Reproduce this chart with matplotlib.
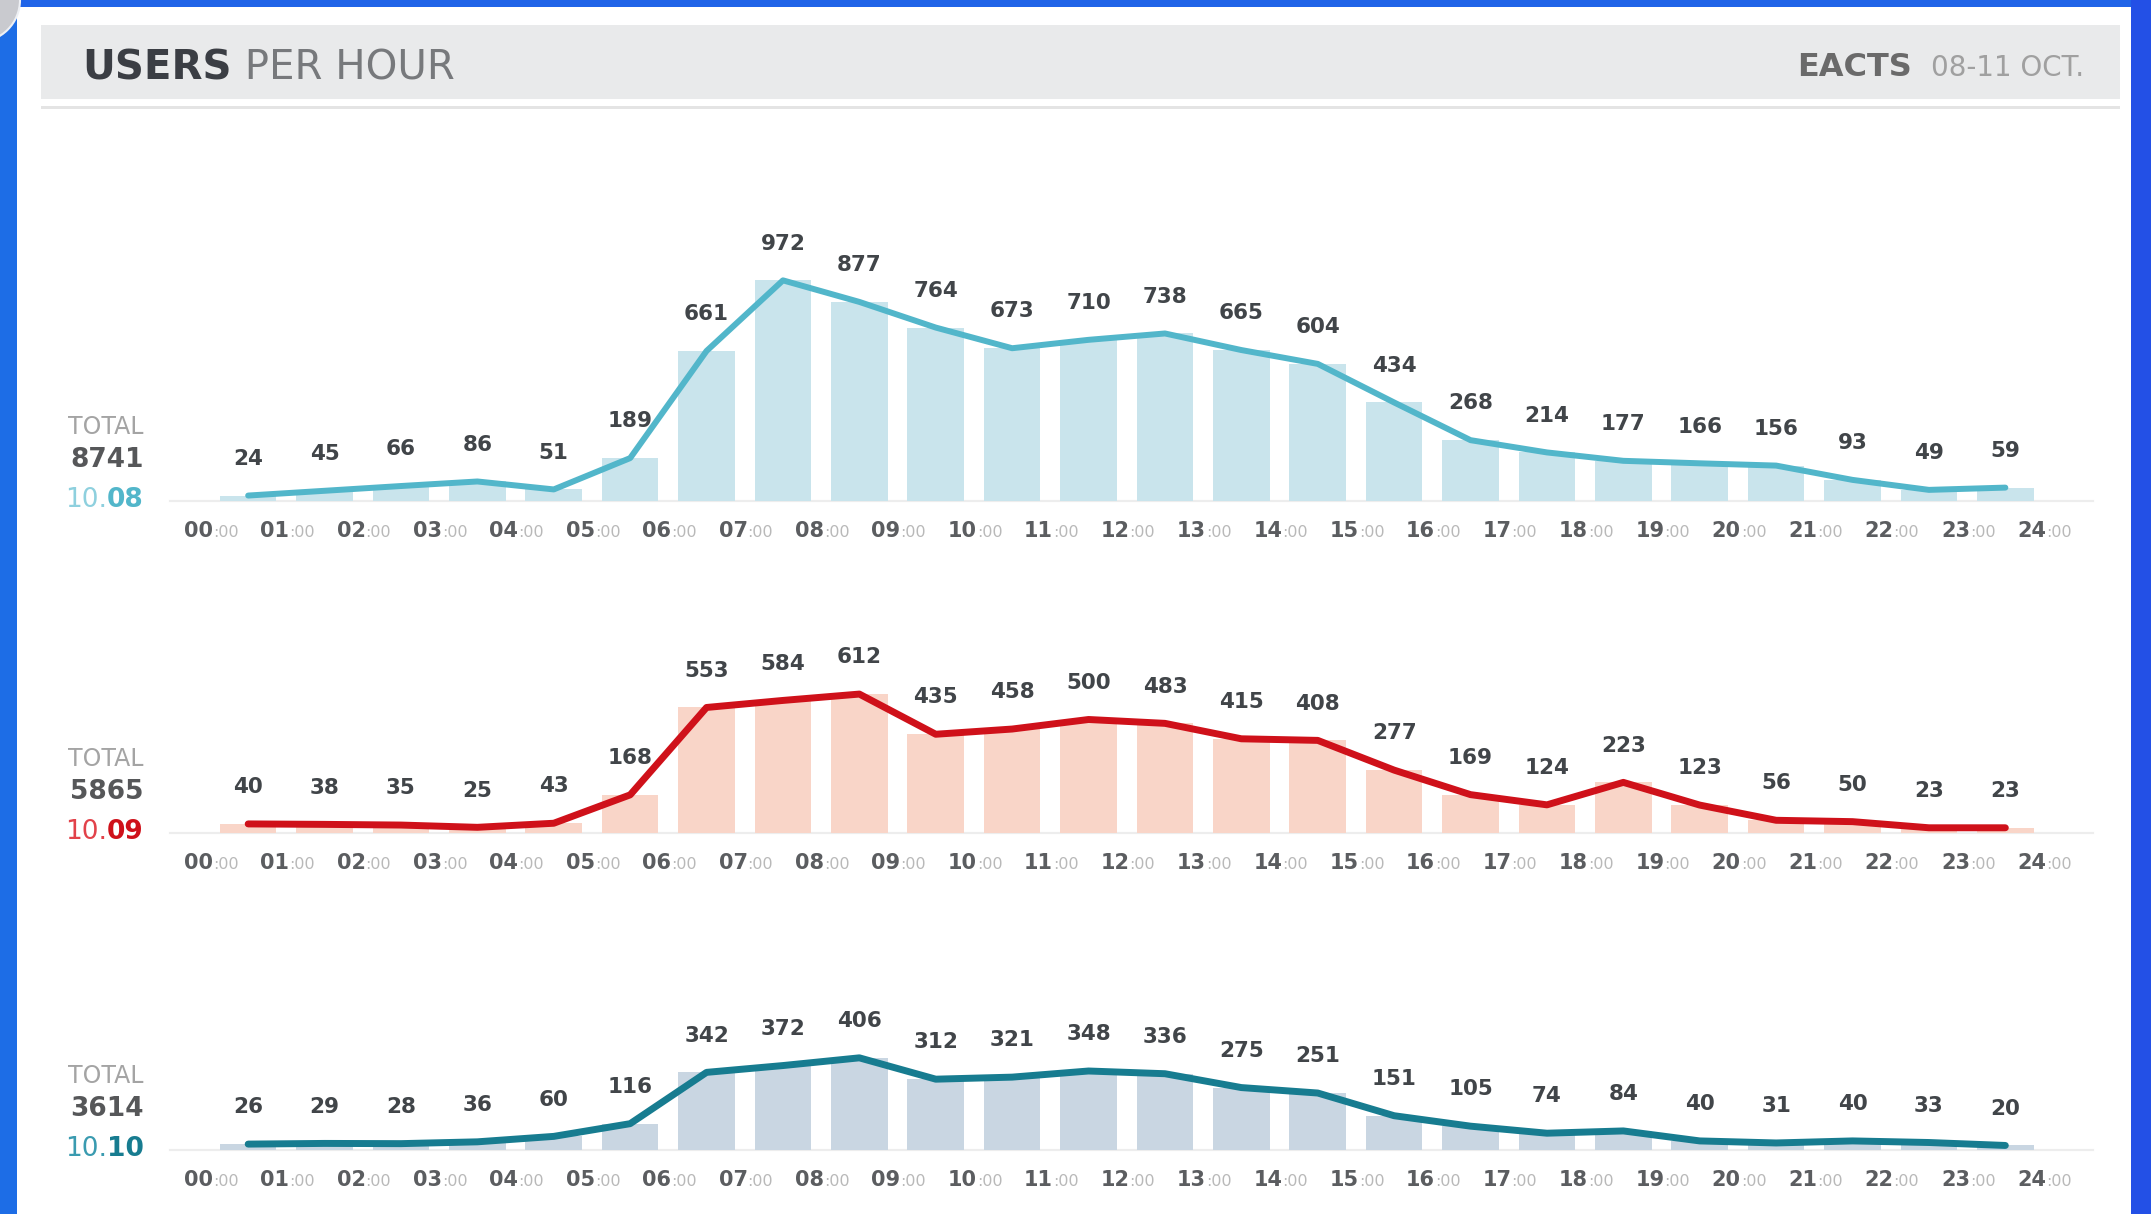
import matplotlib
matplotlib.use("Agg")
import matplotlib.pyplot as plt
from matplotlib.patches import Rectangle, Ellipse
import numpy as np

# hourly users, one list per day
HOURS = [f"{h:02d}" for h in range(25)]
users_oct08 = [24, 45, 66, 86, 51, 189, 661, 972, 877, 764, 673, 710, 738, 665, 604,
               434, 268, 214, 177, 166, 156, 93, 49, 59]
users_oct09 = [40, 38, 35, 25, 43, 168, 553, 584, 612, 435, 458, 500, 483, 415, 408,
               277, 169, 124, 223, 123, 56, 50, 23, 23]
users_oct10 = [26, 29, 28, 36, 60, 116, 342, 372, 406, 312, 321, 348, 336, 275, 251,
               151, 105, 74, 84, 40, 31, 40, 33, 20]
TOTALS = ["8741", "5865", "3614"]
DAY_MONTH = ["10.", "10.", "10."]
DAY_NUM = ["08", "09", "10"]

W, H, DPI = 2151, 1214, 100
PX_PER_USER = 0.227
plt.rcParams["font.family"] = ["DejaVu Sans"]

fig = plt.figure(figsize=(W / DPI, H / DPI), dpi=DPI)
fig.patch.set_facecolor("white")


def fx(px):
    return px / W


def fy(px):
    return 1 - px / H


# window frame
for x0, y0, w, h, c in [(0, 0, 17, H, "#1d6de6"), (0, 0, W, 7, "#2064e8"),
                        (2131, 0, 20, H, "#2350e6")]:
    fig.add_artist(Rectangle((fx(x0), fy(y0 + h)), w / W, h / H,
                             transform=fig.transFigure, color=c, lw=0))
fig.add_artist(Ellipse((fx(-22), fy(0)), 84 / W, 84 / H, transform=fig.transFigure,
                       facecolor="#c9cacf", edgecolor="#eef0f4", lw=1.5))

# header band
fig.add_artist(Rectangle((fx(41), fy(99)), 2079 / W, 74 / H, transform=fig.transFigure,
                         color="#e9eaeb", lw=0))
fig.add_artist(Rectangle((fx(41), fy(109)), 2079 / W, 3 / H, transform=fig.transFigure,
                         color="#e4e4e4", lw=0))

hdr = fig.add_axes([0, 0, 1, 1]); hdr.axis("off"); hdr.set_zorder(5)
t_users = fig.text(fx(82), fy(69), "USERS", ha="left", va="center", fontsize=29,
                   fontweight="bold", color="#3b3e44", zorder=6)
hdr.annotate(" PER HOUR", xy=(1, 0.5), xycoords=t_users, ha="left", va="center",
             fontsize=29, color="#77797c")
t_date = fig.text(fx(2084), fy(68), "08-11 OCT.", ha="right", va="center", fontsize=20,
                  color="#a0a0a0", zorder=6)
hdr.annotate("EACTS", xy=(0, 0.5), xycoords=t_date, xytext=(-14, 0),
             textcoords="offset points", ha="right", va="center", fontsize=23,
             fontweight="bold", color="#6a6a6a")

panels = [
    (users_oct08, 501, "#52b6ca", "#c9e4ec", "#8ed0de", 4.3),
    (users_oct09, 833, "#cf111a", "#f9d5c8", "#e2424a", 5.0),
    (users_oct10, 1150, "#177c90", "#c9d6e2", "#3a9bb0", 5.0),
]

x = np.arange(24) + 0.5
for i, (vals, base, line_c, bar_c, light_c, lw) in enumerate(panels):
    ax = fig.add_axes([fx(150), (H - base) / H, 1960 / W, 260 / H])
    ax.set_xlim(-0.785, 24.87)
    ax.set_ylim(0, 260 / PX_PER_USER)
    ax.axis("off")

    ax.plot([-0.52, 24.65], [0, 0], color="#ededed", lw=1.6, clip_on=False, zorder=1)
    ax.bar(x, vals, width=0.74, color=bar_c, zorder=2)
    ax.plot(x, vals, color=line_c, lw=lw, solid_joinstyle="round",
            solid_capstyle="round", clip_on=False, zorder=3)

    for xi, v in zip(x, vals):
        ax.annotate(str(v), (xi, v), xytext=(0, 26.5), textcoords="offset points",
                    ha="center", va="center", fontsize=15.5, fontweight="bold",
                    color="#414549")

    for j, hh in enumerate(HOURS):
        t = ax.annotate(hh, (j, 0), xytext=(2, -21.5), textcoords="offset points",
                        ha="right", va="center", fontsize=15, fontweight="bold",
                        color="#5b5d60", annotation_clip=False)
        ax.annotate(":00", xy=(1, 0.42), xycoords=t, ha="left", va="center",
                    fontsize=11.5, color="#b9b9b9")

    # day summary on the left
    fig.text(fx(144), fy(base - 74), "TOTAL", ha="right", va="center", fontsize=17,
             color="#a4a4a4")
    fig.text(fx(144), fy(base - 41), TOTALS[i], ha="right", va="center", fontsize=19,
             fontweight="bold", color="#565759")
    t_day = fig.text(fx(144), fy(base - 1), DAY_NUM[i], ha="right", va="center",
                     fontsize=19, fontweight="bold", color=line_c)
    hdr.annotate(DAY_MONTH[i], xy=(0, 0.5), xycoords=t_day, ha="right", va="center",
                 fontsize=19, color=light_c)

fig.savefig("out.png", dpi=DPI, facecolor=fig.get_facecolor())
